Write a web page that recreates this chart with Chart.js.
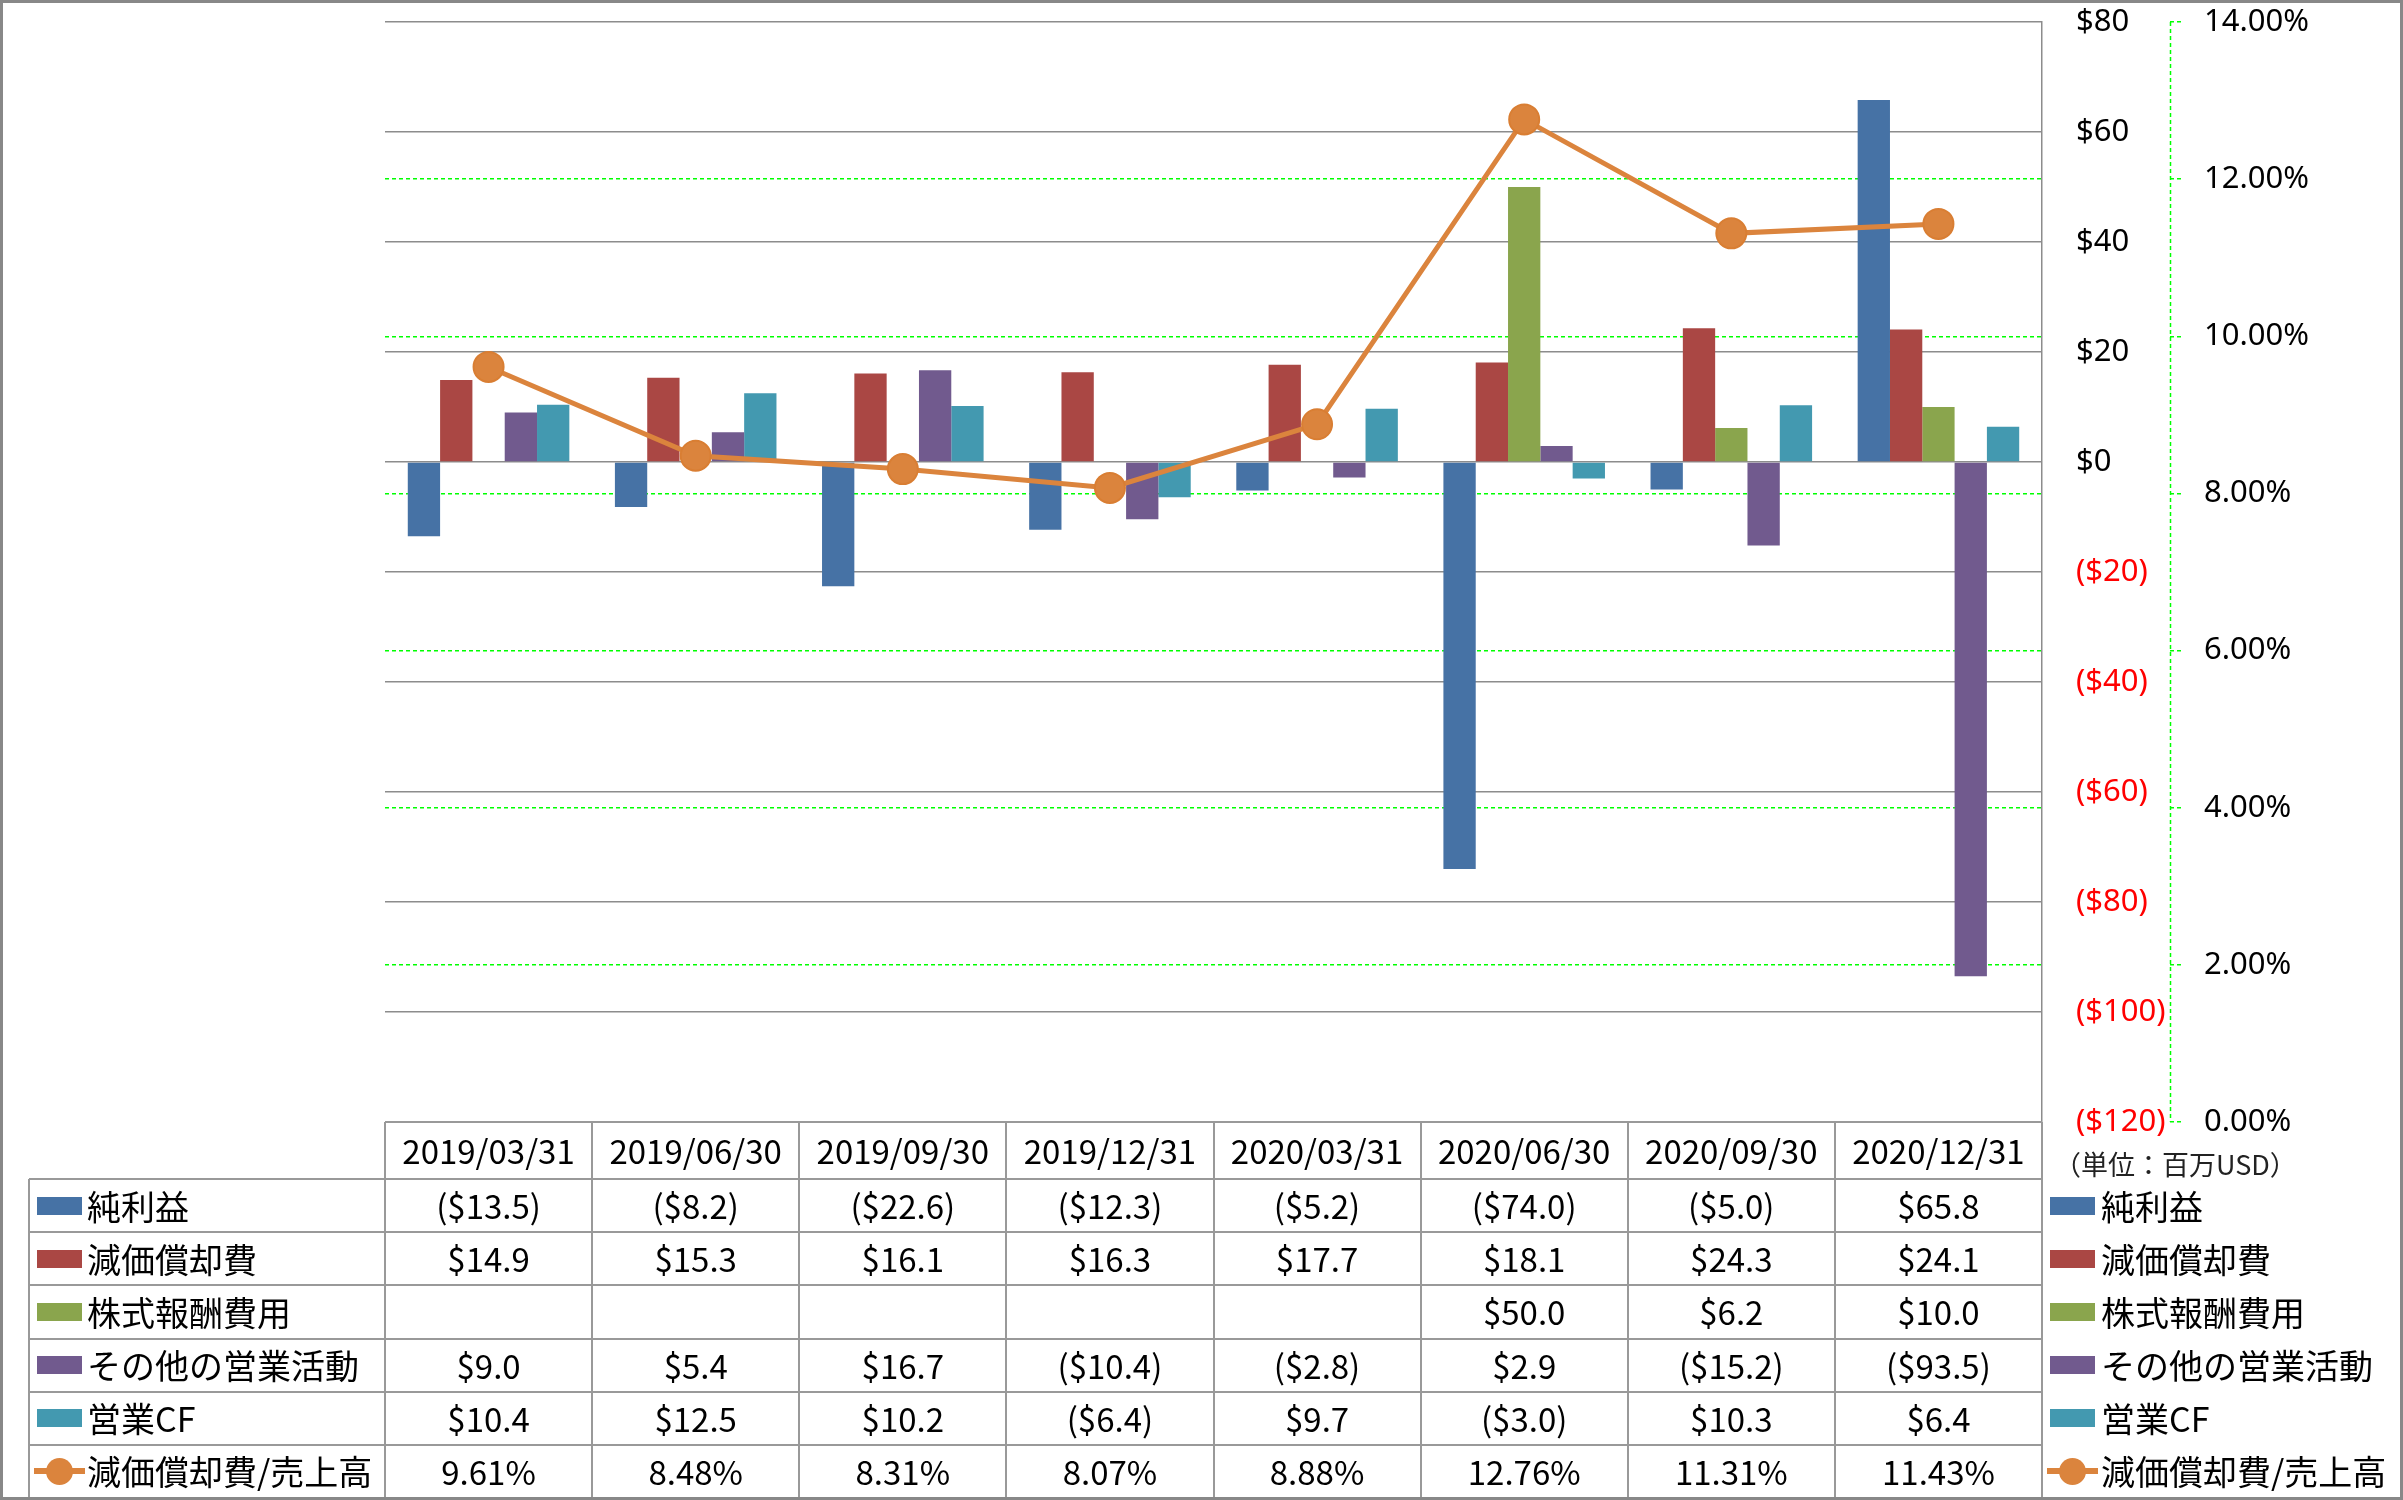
<!DOCTYPE html>
<html lang="ja">
<head>
<meta charset="utf-8">
<script src="https://cdn.jsdelivr.net/npm/chart.js@4.4.1/dist/chart.umd.min.js"></script>
<style>
html, body { margin: 0; padding: 0; background: #fff; }
#wrap { position: relative; width: 2403px; height: 1500px; overflow: hidden; background: #fff; }
#chartBox { position: absolute; left: 0; top: 0; width: 2403px; height: 1500px; }
#frame { position: absolute; left: 0; top: 0; width: 2403px; height: 1500px; box-sizing: border-box; border: 3px solid #888; pointer-events: none; }
.ln { position: absolute; background: #999; }
.txt { position: absolute; display: flex; align-items: center; white-space: nowrap; font-family: "Noto Sans CJK JP", sans-serif; color: #000; line-height: 1; }
.val { justify-content: center; font-size: 33px; }
.lab { font-size: 34px; }
.sw { position: absolute; width: 45px; height: 18px; }
</style>
</head>
<body>
<div id="wrap">
  <div id="chartBox"><canvas id="c"></canvas></div>
  <div id="table"></div>
  <div id="frame"></div>
</div>
<script>
// values (millions USD / percent)
const categories = ['2019/03/31', '2019/06/30', '2019/09/30', '2019/12/31', '2020/03/31', '2020/06/30', '2020/09/30', '2020/12/31'];
const netIncome = [-13.5, -8.2, -22.6, -12.3, -5.2, -74.0, -5.0, 65.8];
const depreciation = [14.9, 15.3, 16.1, 16.3, 17.7, 18.1, 24.3, 24.1];
const stockComp = [null, null, null, null, null, 50.0, 6.2, 10.0];
const otherOps = [9.0, 5.4, 16.7, -10.4, -2.8, 2.9, -15.2, -93.5];
const operatingCF = [10.4, 12.5, 10.2, -6.4, 9.7, -3.0, 10.3, 6.4];
const depRatio = [9.61, 8.48, 8.31, 8.07, 8.88, 12.76, 11.31, 11.43];

const seriesNames = ['純利益', '減価償却費', '株式報酬費用', 'その他の営業活動', '営業CF', '減価償却費/売上高'];
const unitLabel = '（単位：百万USD）';

const usdMin = -120, usdMax = 80, usdStep = 20;
const pctMin = 0, pctMax = 14, pctStep = 2;

const COLORS = {
    net: '#4672A5',
    dep: '#AA4744',
    stock: '#8AA54D',
    other: '#715A8E',
    cf: '#4399B0',
    ratio: '#DB843D',
    grid: '#8c8c8c',
    green: '#00FF00',
};

const fmtUsd = v => v == null ? '' : (v < 0 ? '($' + Math.abs(v).toFixed(1) + ')' : '$' + v.toFixed(1));
const fmtPct = v => v.toFixed(2) + '%';

const AXIS_FONT = { family: "'Noto Sans', sans-serif", size: 31 };

// dashed green axis line for the percent scale
const pctAxisLine = {
    id: 'pctAxisLine',
    afterDraw(chart) {
        const s = chart.scales.y1;
        const ctx = chart.ctx;
        ctx.save();
        ctx.strokeStyle = COLORS.green;
        ctx.lineWidth = 1.5;
        ctx.setLineDash([4, 3]);
        ctx.beginPath();
        ctx.moveTo(s.left + 0.5, chart.chartArea.top);
        ctx.lineTo(s.left + 0.5, chart.chartArea.bottom);
        ctx.stroke();
        ctx.restore();
    },
};

const barSet = (label, data, color) => ({
    type: 'bar', label, data, yAxisID: 'y', order: 1,
    backgroundColor: color, borderWidth: 0,
    barPercentage: 1, categoryPercentage: 0.78,
});

// fixed axis widths, and no extra vertical padding from tick labels
const fixWidth = w => s => {
    s.width = w;
    s.paddingTop = 0;
    s.paddingBottom = 0;
};

const chart = new Chart(document.getElementById('c'), {
    data: {
        labels: categories,
        datasets: [
            barSet(seriesNames[0], netIncome, COLORS.net),
            barSet(seriesNames[1], depreciation, COLORS.dep),
            barSet(seriesNames[2], stockComp, COLORS.stock),
            barSet(seriesNames[3], otherOps, COLORS.other),
            barSet(seriesNames[4], operatingCF, COLORS.cf),
            {
                type: 'line', label: seriesNames[5], data: depRatio, yAxisID: 'y1', order: 0,
                borderColor: COLORS.ratio, borderWidth: 5,
                pointRadius: 15, pointBackgroundColor: COLORS.ratio,
                pointBorderColor: '#D97E33', pointBorderWidth: 2,
                tension: 0,
            },
        ],
    },
    options: {
        responsive: true,
        maintainAspectRatio: false,
        animation: false,
        layout: { padding: { left: 385, top: 22, right: 0, bottom: 378 } },
        plugins: { legend: { display: false }, tooltip: { enabled: false } },
        scales: {
            x: { display: false, offset: true, grid: { display: false } },
            y: {
                position: 'right',
                min: usdMin, max: usdMax,
                ticks: {
                    stepSize: usdStep,
                    padding: 34,
                    font: AXIS_FONT,
                    color: c => c.tick.value < 0 ? '#FF0000' : '#000',
                    callback: v => v < 0 ? '($' + Math.abs(v) + ')' : '$' + v,
                },
                grid: { color: COLORS.grid, lineWidth: 1.5, drawTicks: false },
                border: { display: true, color: COLORS.grid, width: 1.5 },
                afterFit: fixWidth(128),
            },
            y1: {
                position: 'right',
                min: pctMin, max: pctMax,
                ticks: {
                    stepSize: pctStep,
                    padding: 22,
                    font: AXIS_FONT,
                    color: '#000',
                    callback: v => v.toFixed(2) + '%',
                },
                grid: {
                    color: c => (c.tick && (c.tick.value === pctMin || c.tick.value === pctMax)) ? 'rgba(0,0,0,0)' : COLORS.green,
                    lineWidth: 1.5,
                    tickLength: 12,
                    tickColor: COLORS.green,
                    tickBorderDash: [4, 3],
                },
                border: { display: false, dash: [4, 3] },
                afterFit: fixWidth(233),
            },
        },
    },
    plugins: [pctAxisLine],
});

// data table + legend under / beside the plot, aligned to the chart's x scale
function buildTable(chart) {
    const host = document.getElementById('table');
    const area = chart.chartArea;
    const colW = (area.right - area.left) / categories.length;
    const top = area.bottom;
    const headerH = 57;
    const bottom = 1498;
    const rowH = (bottom - top - headerH) / 6;
    const legendLeft = 29;

    const add = (cls, style, text) => {
        const d = document.createElement('div');
        d.className = cls;
        Object.assign(d.style, style);
        if (text != null) d.textContent = text;
        host.appendChild(d);
        return d;
    };
    const hLine = (x1, x2, y) => add('ln', { left: x1 + 'px', top: (y - 1) + 'px', width: (x2 - x1) + 'px', height: '2px' });
    const vLine = (x, y1, y2) => add('ln', { left: (x - 1) + 'px', top: y1 + 'px', width: '2px', height: (y2 - y1) + 'px' });

    const rows = [
        { name: seriesNames[0], color: COLORS.net, values: netIncome, fmt: fmtUsd },
        { name: seriesNames[1], color: COLORS.dep, values: depreciation, fmt: fmtUsd },
        { name: seriesNames[2], color: COLORS.stock, values: stockComp, fmt: fmtUsd },
        { name: seriesNames[3], color: COLORS.other, values: otherOps, fmt: fmtUsd },
        { name: seriesNames[4], color: COLORS.cf, values: operatingCF, fmt: fmtUsd },
        { name: seriesNames[5], color: COLORS.ratio, values: depRatio, fmt: fmtPct, line: true },
    ];

    // grid lines
    hLine(area.left, area.right, top);
    for (let r = 0; r <= rows.length; r++) {
        hLine(legendLeft, area.right, top + headerH + r * rowH);
    }
    vLine(legendLeft, top + headerH, bottom);
    for (let i = 0; i <= categories.length; i++) {
        vLine(area.left + i * colW, top, bottom);
    }

    // header
    categories.forEach((c, i) => {
        add('txt val', { left: (area.left + i * colW) + 'px', top: top + 'px', width: colW + 'px', height: headerH + 'px' }, c);
    });

    const legendIcon = (x, cy, row) => {
        if (row.line) {
            add('', { position: 'absolute', left: x + 'px', top: (cy - 3) + 'px', width: '51px', height: '6px', background: row.color });
            add('', { position: 'absolute', left: (x + 12) + 'px', top: (cy - 13) + 'px', width: '27px', height: '27px', borderRadius: '50%', background: row.color });
        } else {
            add('sw', { left: (x + 3) + 'px', top: (cy - 9) + 'px', background: row.color });
        }
    };

    rows.forEach((row, r) => {
        const y = top + headerH + r * rowH;
        const cy = y + rowH / 2;
        // left legend column
        legendIcon(34, cy, row);
        add('txt lab', { left: '87px', top: y + 'px', height: rowH + 'px' }, row.name);
        // values
        row.values.forEach((v, i) => {
            add('txt val', { left: (area.left + i * colW) + 'px', top: y + 'px', width: colW + 'px', height: rowH + 'px' }, row.fmt(v));
        });
        // right legend
        legendIcon(2047, cy, row);
        add('txt lab', { left: '2101px', top: y + 'px', height: rowH + 'px' }, row.name);
    });

    add('txt', { left: '2054px', top: (top + 19) + 'px', height: '44px', fontSize: '27px', color: '#222' }, unitLabel);
}

buildTable(chart);
</script>
</body>
</html>
